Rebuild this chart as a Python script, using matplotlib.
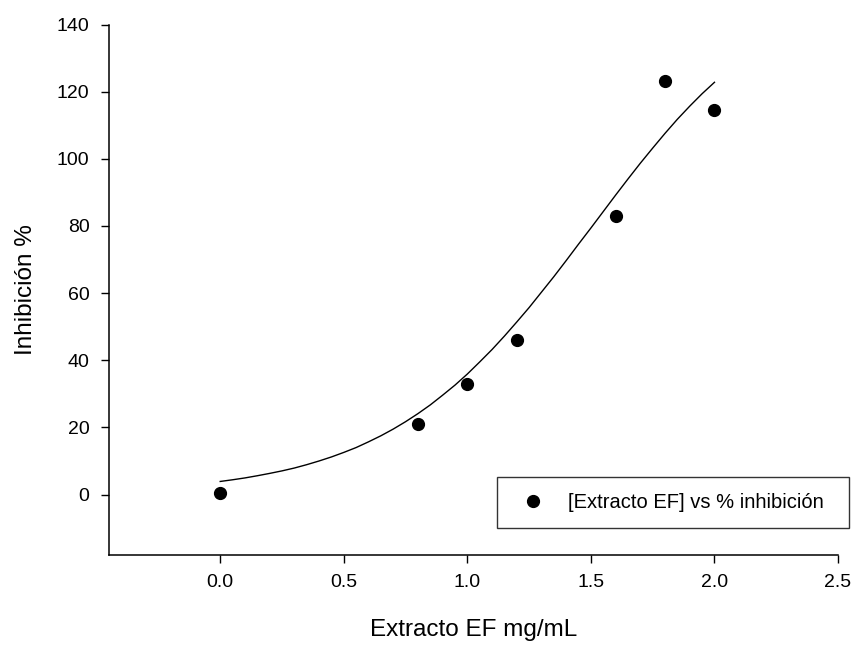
import matplotlib
matplotlib.use("Agg")
import matplotlib.pyplot as plt

plt.rcParams['font.family'] = ['Liberation Sans', 'DejaVu Sans']

# Data points
conc = [0.0, 0.8, 1.0, 1.2, 1.6, 1.8, 2.0]
inhib = [0.5, 21.0, 33.0, 46.0, 83.0, 123.2, 114.5]

# Fitted curve (every 0.05 mg/mL)
curve_x = [0.00, 0.05, 0.10, 0.15, 0.20, 0.25, 0.30, 0.35, 0.40, 0.45,
           0.50, 0.55, 0.60, 0.65, 0.70, 0.75, 0.80, 0.85, 0.90, 0.95,
           1.00, 1.05, 1.10, 1.15, 1.20, 1.25, 1.30, 1.35, 1.40, 1.45,
           1.50, 1.55, 1.60, 1.65, 1.70, 1.75, 1.80, 1.85, 1.90, 1.95, 2.00]
curve_y = [3.9, 4.4, 4.95, 5.6, 6.3, 7.05, 7.9, 8.9, 10.0, 11.2,
           12.55, 14.0, 15.7, 17.5, 19.5, 21.7, 24.1, 26.7, 29.6, 32.6,
           35.9, 39.5, 43.2, 47.2, 51.4, 55.7, 60.3, 64.9, 69.7, 74.6,
           79.4, 84.3, 89.2, 94.0, 98.7, 103.2, 107.6, 111.8, 115.7, 119.4, 122.8]

xticks = [0.0, 0.5, 1.0, 1.5, 2.0, 2.5]
yticks = [0, 20, 40, 60, 80, 100, 120, 140]

fig = plt.figure(figsize=(8.59, 6.46), dpi=100)
ax = fig.add_axes([0.1269, 0.1409, 0.8487, 0.8211])

ax.plot(curve_x, curve_y, color='black', linewidth=1.0)
ax.plot(conc, inhib, linestyle='none', marker='o', markersize=8.5,
        color='black', label='[Extracto EF] vs % inhibición')

ax.set_xlim(-0.45, 2.5)
ax.set_ylim(-18, 140)
ax.set_xticks(xticks)
ax.set_xticklabels([f"{t:.1f}" for t in xticks])
ax.set_yticks(yticks)

for s in ['top', 'right']:
    ax.spines[s].set_visible(False)
for s in ['left', 'bottom']:
    ax.spines[s].set_linewidth(1.1)

ax.tick_params(direction='out', length=6, width=1.0, labelsize=14, pad=8)

ax.set_xlabel('Extracto EF mg/mL', fontsize=17.5, labelpad=20)
ax.set_ylabel('Inhibición %', fontsize=17.5, labelpad=14)

leg = ax.legend(loc='lower left', bbox_to_anchor=(497/859, 1-528/646, (849-497)/859, (528-475)/646),
                bbox_transform=fig.transFigure, mode='expand', borderaxespad=0,
                fontsize=14.5, frameon=True, fancybox=False, handletextpad=0.75,
                borderpad=0.8, handlelength=2.0)
leg.get_frame().set_edgecolor('black')
leg.get_frame().set_linewidth(1.0)

fig.savefig('out.png', dpi=100)
